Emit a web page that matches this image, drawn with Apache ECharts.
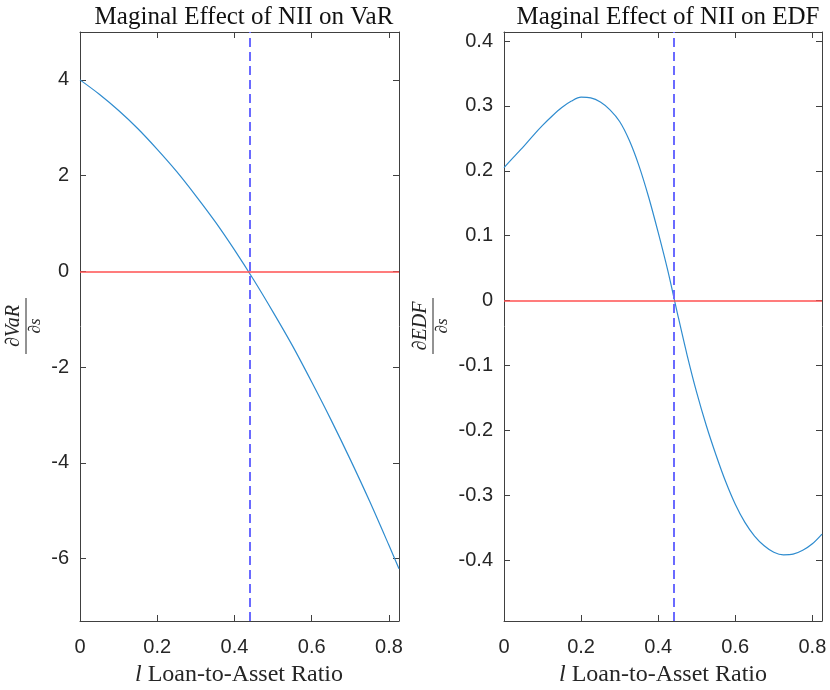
<!DOCTYPE html>
<html>
<head>
<meta charset="utf-8">
<script src="https://cdn.jsdelivr.net/npm/echarts@6/dist/echarts.min.js"></script>
<style>
  html, body { margin: 0; padding: 0; background: #fff; }
  #main { width: 830px; height: 690px; }
</style>
</head>
<body>
<div id="main"></div>
<script>
// left panel: marginal effect on VaR
var varX = [0, 0.05, 0.1, 0.15, 0.2, 0.25, 0.3, 0.35, 0.4, 0.45, 0.5, 0.55, 0.6, 0.65, 0.7, 0.75, 0.8, 0.826];
var varY = [4.00, 3.70, 3.36, 2.98, 2.55, 2.09, 1.58, 1.04, 0.45, -0.18, -0.85, -1.55, -2.31, -3.10, -3.93, -4.80, -5.72, -6.21];

// right panel: marginal effect on EDF
var edfX = [0, 0.025, 0.05, 0.075, 0.1, 0.125, 0.15, 0.175, 0.2, 0.225, 0.25, 0.275, 0.3, 0.325, 0.35,
  0.375, 0.4, 0.425, 0.45, 0.475, 0.5, 0.525, 0.55, 0.575, 0.6, 0.625, 0.65, 0.675, 0.7, 0.725, 0.75,
  0.775, 0.8, 0.825];
var edfY = [0.205, 0.221, 0.237, 0.254, 0.270, 0.2845, 0.2975, 0.3075, 0.3135, 0.3125, 0.306, 0.294, 0.276, 0.247, 0.208,
  0.160, 0.105, 0.046, -0.020, -0.084, -0.142, -0.193, -0.238, -0.279, -0.314, -0.342, -0.363, -0.378, -0.388, -0.392, -0.391,
  -0.385, -0.375, -0.360];

var cutoff = 0.437;   // dashed vertical line
var xTicks = [0, 0.2, 0.4, 0.6, 0.8];
var varTicks = [-6, -4, -2, 0, 2, 4];
var edfTicks = [-0.4, -0.3, -0.2, -0.1, 0, 0.1, 0.2, 0.3, 0.4];
var titles = ['Maginal Effect of NII on VaR', 'Maginal Effect of NII on EDF'];

function zip(xs, ys) {
  return xs.map(function (x, i) { return [x, ys[i]]; });
}

var axisColor = '#404040';
var labelFont = { fontFamily: 'Liberation Sans', fontSize: 20, color: '#262626' };

function xAx(grid, max, pos) {
  return {
    type: 'value', gridIndex: grid, position: pos, min: 0, max: max,
    axisLine: { show: true, onZero: false, lineStyle: { color: axisColor, width: 1 } },
    axisTick: { show: true, inside: true, length: 6, customValues: xTicks, lineStyle: { color: axisColor } },
    axisLabel: Object.assign({ show: pos === 'bottom', margin: 16, customValues: xTicks }, labelFont),
    splitLine: { show: false }
  };
}

function yAx(grid, min, max, ticks, pos) {
  return {
    type: 'value', gridIndex: grid, position: pos, min: min, max: max,
    axisLine: { show: true, onZero: false, lineStyle: { color: axisColor, width: 1 } },
    axisTick: { show: true, inside: true, length: 6, customValues: ticks, lineStyle: { color: axisColor } },
    axisLabel: Object.assign({ show: pos === 'left', margin: 11, customValues: ticks }, labelFont),
    splitLine: { show: false }
  };
}

function curve(xi, yi, data) {
  return {
    type: 'line', xAxisIndex: xi, yAxisIndex: yi, data: data,
    showSymbol: false, smooth: 0.3, clip: true,
    lineStyle: { color: '#2f8ccf', width: 1.2 },
    markLine: {
      silent: true, symbol: 'none', label: { show: false }, animation: false,
      data: [
        { yAxis: 0, lineStyle: { color: '#ff5050', width: 1.5, type: 'solid' } },
        { xAxis: cutoff, lineStyle: { color: '#6a6aff', width: 2, type: [9, 5] } }
      ]
    }
  };
}

// fraction-style y labels, rotated like MATLAB ylabel
function frac(x, y, num, den) {
  return {
    type: 'group', x: x, y: y, rotation: Math.PI / 2,
    children: [
      { type: 'text', style: { text: num, x: 0, y: -2, align: 'center', verticalAlign: 'bottom',
        font: 'italic 20px "Liberation Serif"', fill: '#262626' } },
      { type: 'line', shape: { x1: -28, y1: 0, x2: 28, y2: 0 }, style: { stroke: '#262626', lineWidth: 1 } },
      { type: 'text', style: { text: den, x: 0, y: 1, align: 'center', verticalAlign: 'top',
        font: 'italic 17px "Liberation Serif"', fill: '#262626' } }
    ]
  };
}

function xName(cx) {
  return {
    type: 'text', x: cx, y: 675,
    style: {
      text: '{i|l} Loan-to-Asset Ratio',
      align: 'center', verticalAlign: 'middle',
      font: '24px "Liberation Serif"', fill: '#262626',
      rich: { i: { font: 'italic 24px "Liberation Serif"', fill: '#262626' } }
    }
  };
}

var chart = echarts.init(document.getElementById('main'));
chart.setOption({
  animation: false,
  backgroundColor: '#fff',
  title: [
    { text: titles[0], left: 239, top: 0, textAlign: 'center',
      textStyle: { fontFamily: 'Liberation Serif', fontWeight: 'normal', fontSize: 25, color: '#111' } },
    { text: titles[1], left: 663, top: 0, textAlign: 'center',
      textStyle: { fontFamily: 'Liberation Serif', fontWeight: 'normal', fontSize: 25, color: '#111' } }
  ],
  grid: [
    { left: 80, top: 32, width: 319, height: 589 },
    { left: 504, top: 32, width: 318, height: 589 }
  ],
  xAxis: [
    xAx(0, 0.826, 'bottom'), xAx(0, 0.826, 'top'),
    xAx(1, 0.825, 'bottom'), xAx(1, 0.825, 'top')
  ],
  yAxis: [
    yAx(0, -7.3, 5, varTicks, 'left'), yAx(0, -7.3, 5, varTicks, 'right'),
    yAx(1, -0.494, 0.414, edfTicks, 'left'), yAx(1, -0.494, 0.414, edfTicks, 'right')
  ],
  series: [
    curve(0, 0, zip(varX, varY)),
    curve(2, 2, zip(edfX, edfY))
  ],
  graphic: [
    frac(26, 326, '∂VaR', '∂s'),
    frac(433, 326, '∂EDF', '∂s'),
    xName(239),
    xName(663)
  ]
});
</script>
</body>
</html>
